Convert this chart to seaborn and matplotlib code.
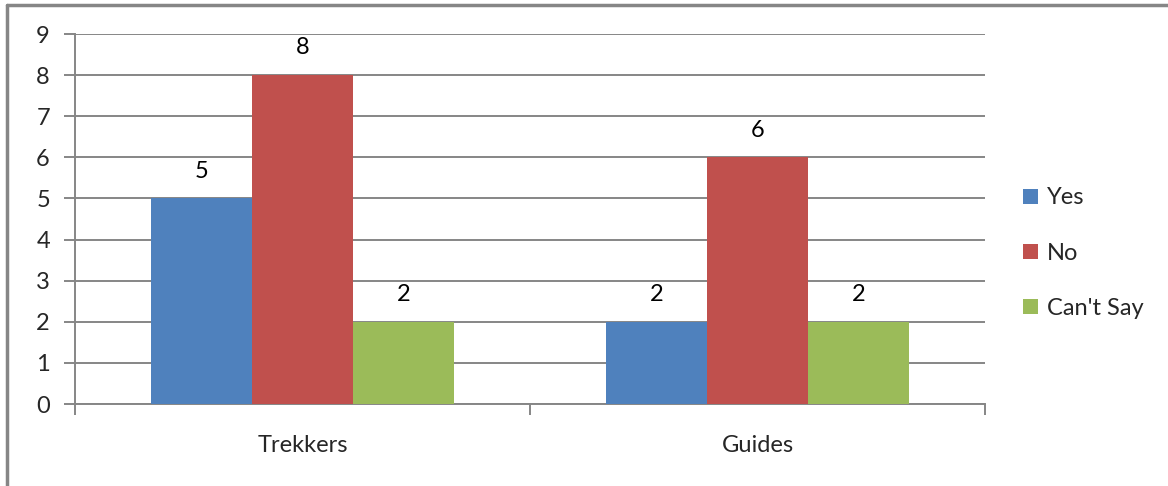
import numpy as np
import pandas as pd
import seaborn as sns
import matplotlib.pyplot as plt
from matplotlib.lines import Line2D

groups = ['Trekkers', 'Guides']
answers = ['Yes', 'No', "Can't Say"]
yes_vals = [5, 2]
no_vals = [8, 6]
cant_say_vals = [2, 2]

df = pd.DataFrame({
    'group': groups * 3,
    'answer': [a for a in answers for _ in groups],
    'count': yes_vals + no_vals + cant_say_vals,
})

colors = ['#4F81BD', '#C0504D', '#9BBB59']
grey = '#868686'
fs = 17

sns.set_style('white')
plt.rcParams['font.family'] = ['Lato', 'DejaVu Sans']

fig = plt.figure(figsize=(11.68, 4.86), dpi=100)
ax = fig.add_axes([0.0642, 0.1687, 0.7791, 0.7613])

sns.barplot(data=df, x='group', y='count', hue='answer', hue_order=answers,
            palette=colors, width=0.667, saturation=1, linewidth=0,
            ax=ax, zorder=3)

for c in ax.containers:
    ax.bar_label(c, padding=12, fontsize=fs, color='black')

ax.set_xlim(-0.5, 1.5)
ax.set_ylim(0, 9)
ax.set_yticks(range(0, 10))
ax.grid(axis='y', color=grey, linewidth=1.4, zorder=0)
ax.set_axisbelow(True)

for s in ['top', 'right']:
    ax.spines[s].set_visible(False)
for s in ['left', 'bottom']:
    ax.spines[s].set_color(grey)
    ax.spines[s].set_linewidth(1.4)

ax.tick_params(axis='y', length=8, width=1.4, color=grey, labelsize=fs, pad=10, left=True)
ax.tick_params(axis='x', which='major', length=0, labelsize=fs, pad=22)
ax.set_xticks([-0.5, 0.5, 1.5], minor=True)
ax.tick_params(axis='x', which='minor', length=8, width=1.4, color=grey, bottom=True)
ax.set_xlabel('')
ax.set_ylabel('')

ax.legend(loc='center left', bbox_to_anchor=(0.858, 0.479), bbox_transform=fig.transFigure,
          frameon=False, fontsize=fs, handlelength=0.6, handleheight=0.6,
          handletextpad=0.4, labelspacing=1.45)

# outer chart frame (left and top edges)
fig.add_artist(Line2D([0.006, 0.006], [0, 0.99], transform=fig.transFigure,
                      color=grey, linewidth=2.5))
fig.add_artist(Line2D([0.006, 1.0], [0.99, 0.99], transform=fig.transFigure,
                      color=grey, linewidth=2.5))

fig.savefig('out.png', dpi=100)
